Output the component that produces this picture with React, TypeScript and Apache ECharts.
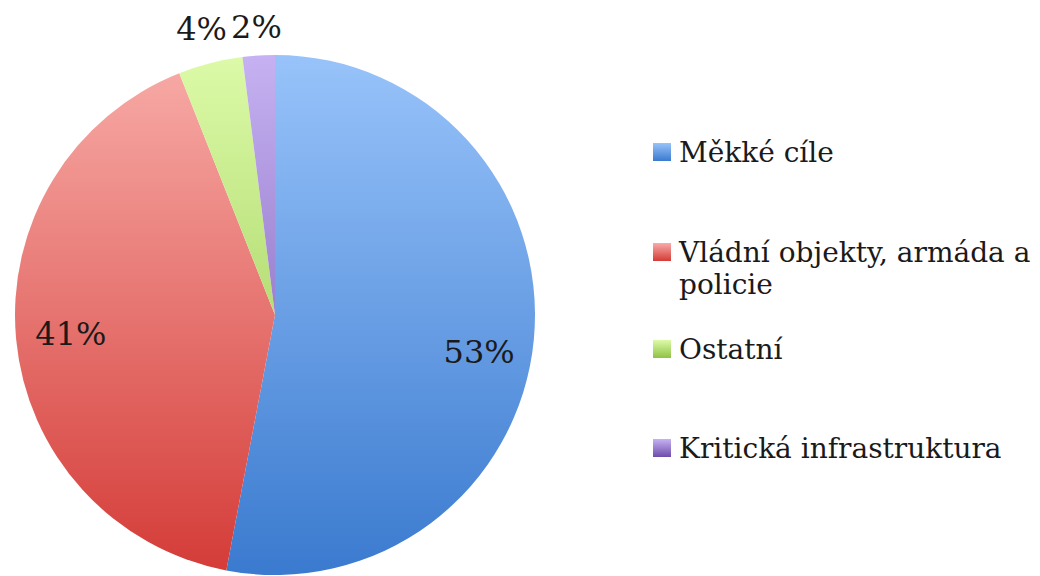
import React, { useEffect, useRef } from "react";
import * as echarts from "echarts";

const categories = [
  "Měkké cíle",
  "Vládní objekty, armáda a policie",
  "Ostatní",
  "Kritická infrastruktura",
];
const values = [53, 41, 4, 2];
const topColors = ["#98c3fa", "#f8aca8", "#dcfaa8", "#c6b2f2"];
const bottomColors = ["#3a7acf", "#d43b37", "#8fc244", "#6e4caa"];

const FONT = "DejaVu Serif";
const CX = 275;
const CY = 315;
const R = 260;

function wrap(text: string, maxChars: number): string[] {
  const words = text.split(" ");
  const lines: string[] = [];
  let cur = "";
  for (const w of words) {
    const next = cur ? cur + " " + w : w;
    if (next.length > maxChars && cur) {
      lines.push(cur);
      cur = w;
    } else cur = next;
  }
  if (cur) lines.push(cur);
  return lines;
}

export default function App() {
  const ref = useRef<HTMLDivElement>(null);
  useEffect(() => {
    if (!ref.current) return;
    const chart = echarts.init(ref.current, undefined, { renderer: "svg" });

    const globalGrad = (i: number) => ({
      type: "linear",
      x: 0,
      y: CY - R,
      x2: 0,
      y2: CY + R,
      global: true,
      colorStops: [
        { offset: 0, color: topColors[i] },
        { offset: 1, color: bottomColors[i] },
      ],
    });
    const localGrad = (i: number) => ({
      type: "linear",
      x: 0,
      y: 0,
      x2: 0,
      y2: 1,
      colorStops: [
        { offset: 0, color: topColors[i] },
        { offset: 1, color: bottomColors[i] },
      ],
    });

    const legendCentersY = [152, 252, 349, 448];
    const legendLeft = 653;
    const lh = 34;
    const wrapped = categories.map((c) => wrap(c, 24));

    const legends = categories.map((name, i) => ({
      orient: "vertical",
      left: legendLeft,
      top: legendCentersY[i] - lh / 2,
      padding: 0,
      itemWidth: 18,
      itemHeight: 18,
      icon: "rect",
      selectedMode: false,
      data: [{ name, itemStyle: { color: localGrad(i) } }],
      formatter: (n: string) => wrap(n, 24)[0],
      textStyle: {
        fontFamily: FONT,
        fontSize: 28,
        color: "#1a1a1a",
        lineHeight: lh,
        padding: [0, 0, 0, 3],
      },
    }));

    const extraLines: any[] = [];
    wrapped.forEach((lines, i) => {
      lines.slice(1).forEach((ln, k) => {
        extraLines.push({
          type: "text",
          left: legendLeft + 26,
          top: legendCentersY[i] + 33 * (k + 1) - lh / 2 + 2,
          style: {
            text: ln,
            font: `28px "${FONT}"`,
            fill: "#1a1a1a",
          },
        });
      });
    });

    const transparent = { color: "rgba(0,0,0,0)", borderWidth: 0 };
    const labelSeries = (radius: number, show: number[]) => ({
      type: "pie",
      center: [CX, CY],
      radius: [0, radius],
      startAngle: 90,
      clockwise: true,
      silent: true,
      z: 5,
      emphasis: { disabled: true },
      itemStyle: transparent,
      labelLine: { show: false },
      labelLayout: (p: any) =>
        p.dataIndex === 0 && radius < 500
          ? { dy: 18 }
          : p.dataIndex === 3 && radius > 500
          ? { dy: 6 }
          : {},
      data: categories.map((name, i) => ({
        name,
        value: values[i],
        label: {
          show: show.includes(i),
          position: "inside",
          formatter: "{c}%",
          fontFamily: FONT,
          fontSize: 32,
          color: "#1a1a1a",
        },
      })),
    });

    chart.setOption({
      animation: false,
      backgroundColor: "#ffffff",
      legend: legends,
      graphic: extraLines,
      series: [
        {
          type: "pie",
          center: [CX, CY],
          radius: [0, R],
          startAngle: 90,
          clockwise: true,
          silent: true,
          emphasis: { disabled: true },
          label: { show: false },
          labelLine: { show: false },
          data: categories.map((name, i) => ({
            name,
            value: values[i],
            itemStyle: { color: globalGrad(i), borderWidth: 0 },
          })),
        },
        labelSeries(404, [0, 1]),
        labelSeries(584, [2, 3]),
      ],
    });
    return () => chart.dispose();
  }, []);
  return (
    <div
      ref={ref}
      style={{ position: "absolute", left: 0, top: 0, width: 1040, height: 576 }}
    />
  );
}
